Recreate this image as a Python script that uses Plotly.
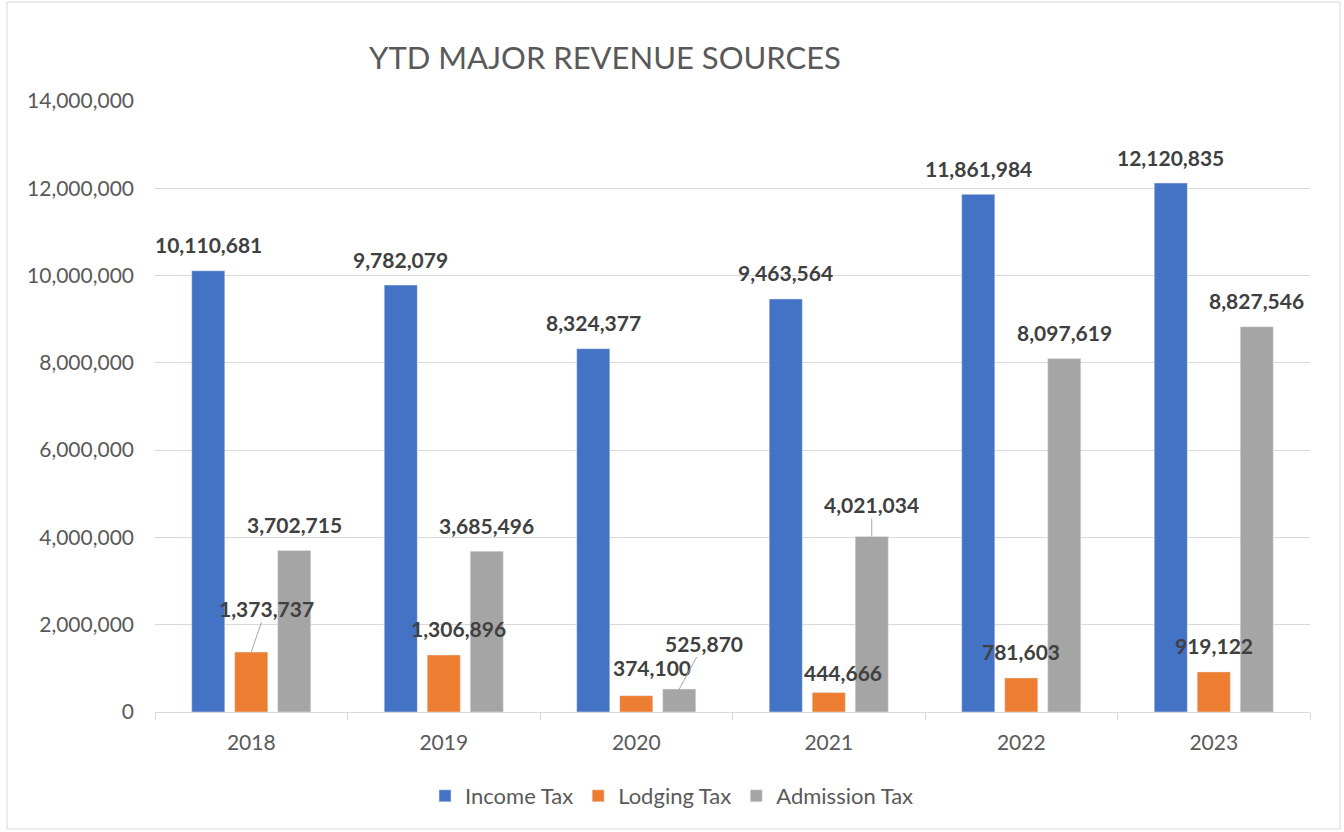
import plotly.graph_objects as go

years = ["2018", "2019", "2020", "2021", "2022", "2023"]
income_tax = [10110681, 9782079, 8324377, 9463564, 11861984, 12120835]
lodging_tax = [1373737, 1306896, 374100, 444666, 781603, 919122]
admission_tax = [3702715, 3685496, 525870, 4021034, 8097619, 8827546]

series = [
    ("Income Tax", income_tax, "#4472C4"),
    ("Lodging Tax", lodging_tax, "#ED7D31"),
    ("Admission Tax", admission_tax, "#A5A5A5"),
]

W, H = 1344, 832
M_L, M_R, M_T, M_B = 155, 34, 101, 120
FONT = "Lato, Calibri, 'Open Sans', sans-serif"
TEXT = "#595959"
LABEL = "#404040"

# label offsets from bar top, per (series, year): (dx, dy, leader line)
BAR_DX = [-43, 0, 43]
label_pos = {
    (1, 0): (15, 44, True),
    (1, 1): (15, 26, False),
    (1, 2): (16, 28, False),
    (2, 2): (25, 46, True),
    (1, 3): (14, 20, False),
    (2, 3): (0, 32, True),
}

fig = go.Figure()
for name, vals, color in series:
    fig.add_trace(go.Bar(x=years, y=vals, name=name, marker_color=color))

annotations = []
for si, (name, vals, color) in enumerate(series):
    for yi, v in enumerate(vals):
        dx, dy, leader = label_pos.get((si, yi), (0, 26, False))
        a = dict(
            x=yi, y=v, xref="x", yref="y",  # category index
            text=f"<b>{v:,}</b>",
            font=dict(family=FONT, size=21, color=LABEL),
        )
        if leader:
            a.update(showarrow=True, arrowhead=0, arrowwidth=1, arrowcolor="#A6A6A6",
                     ax=dx, ay=-dy, xshift=BAR_DX[si], standoff=0)
        else:
            a.update(showarrow=False, xshift=BAR_DX[si] + dx, yshift=dy)
        annotations.append(a)

# chart border
pw = W - M_L - M_R
ph = H - M_T - M_B
fig.add_shape(
    type="rect", xref="paper", yref="paper",
    x0=(7 - M_L) / pw, x1=(W - 4 - M_L) / pw,
    y0=-(H - 3 - M_T - ph) / ph, y1=1 + (M_T - 2) / ph,
    line=dict(color="#D9D9D9", width=1), layer="below",
)

fig.update_layout(
    width=W, height=H,
    margin=dict(l=M_L, r=M_R, t=M_T, b=M_B, autoexpand=False),
    paper_bgcolor="white", plot_bgcolor="white",
    font=dict(family=FONT, size=20, color=TEXT),
    title=dict(
        text="YTD MAJOR REVENUE SOURCES",
        font=dict(family=FONT, size=31, color=TEXT),
        xref="container", x=605 / W, xanchor="center",
        yref="container", y=1 - 58 / H, yanchor="middle",
    ),
    barmode="group", bargap=0.33, bargroupgap=0.23,
    showlegend=True,
    legend=dict(
        orientation="h", xref="container", x=0.5, xanchor="center",
        yref="container", y=1 - 796 / H, yanchor="middle",
        font=dict(family=FONT, size=22, color=TEXT),
        traceorder="normal",
    ),
    annotations=annotations,
)
fig.update_xaxes(
    type="category", range=[-0.5, len(years) - 0.5],
    showline=True, linecolor="#D9D9D9", linewidth=1,
    ticks="outside", tickson="boundaries", ticklen=7, tickcolor="#D9D9D9",
    tickfont=dict(family=FONT, size=21, color=TEXT),
    ticklabelstandoff=12,
    showgrid=False, automargin=False,
)
fig.update_yaxes(
    range=[0, 14000000], dtick=2000000, tickformat=",d",
    showgrid=True, gridcolor="#D9D9D9", gridwidth=1,
    zeroline=False, showline=False,
    tickfont=dict(family=FONT, size=21, color=TEXT),
    ticklabelstandoff=20, automargin=False,
)

fig.write_html(
    "out.html",
    config={"displayModeBar": False},
    post_script="document.body.style.margin='0';",
)
